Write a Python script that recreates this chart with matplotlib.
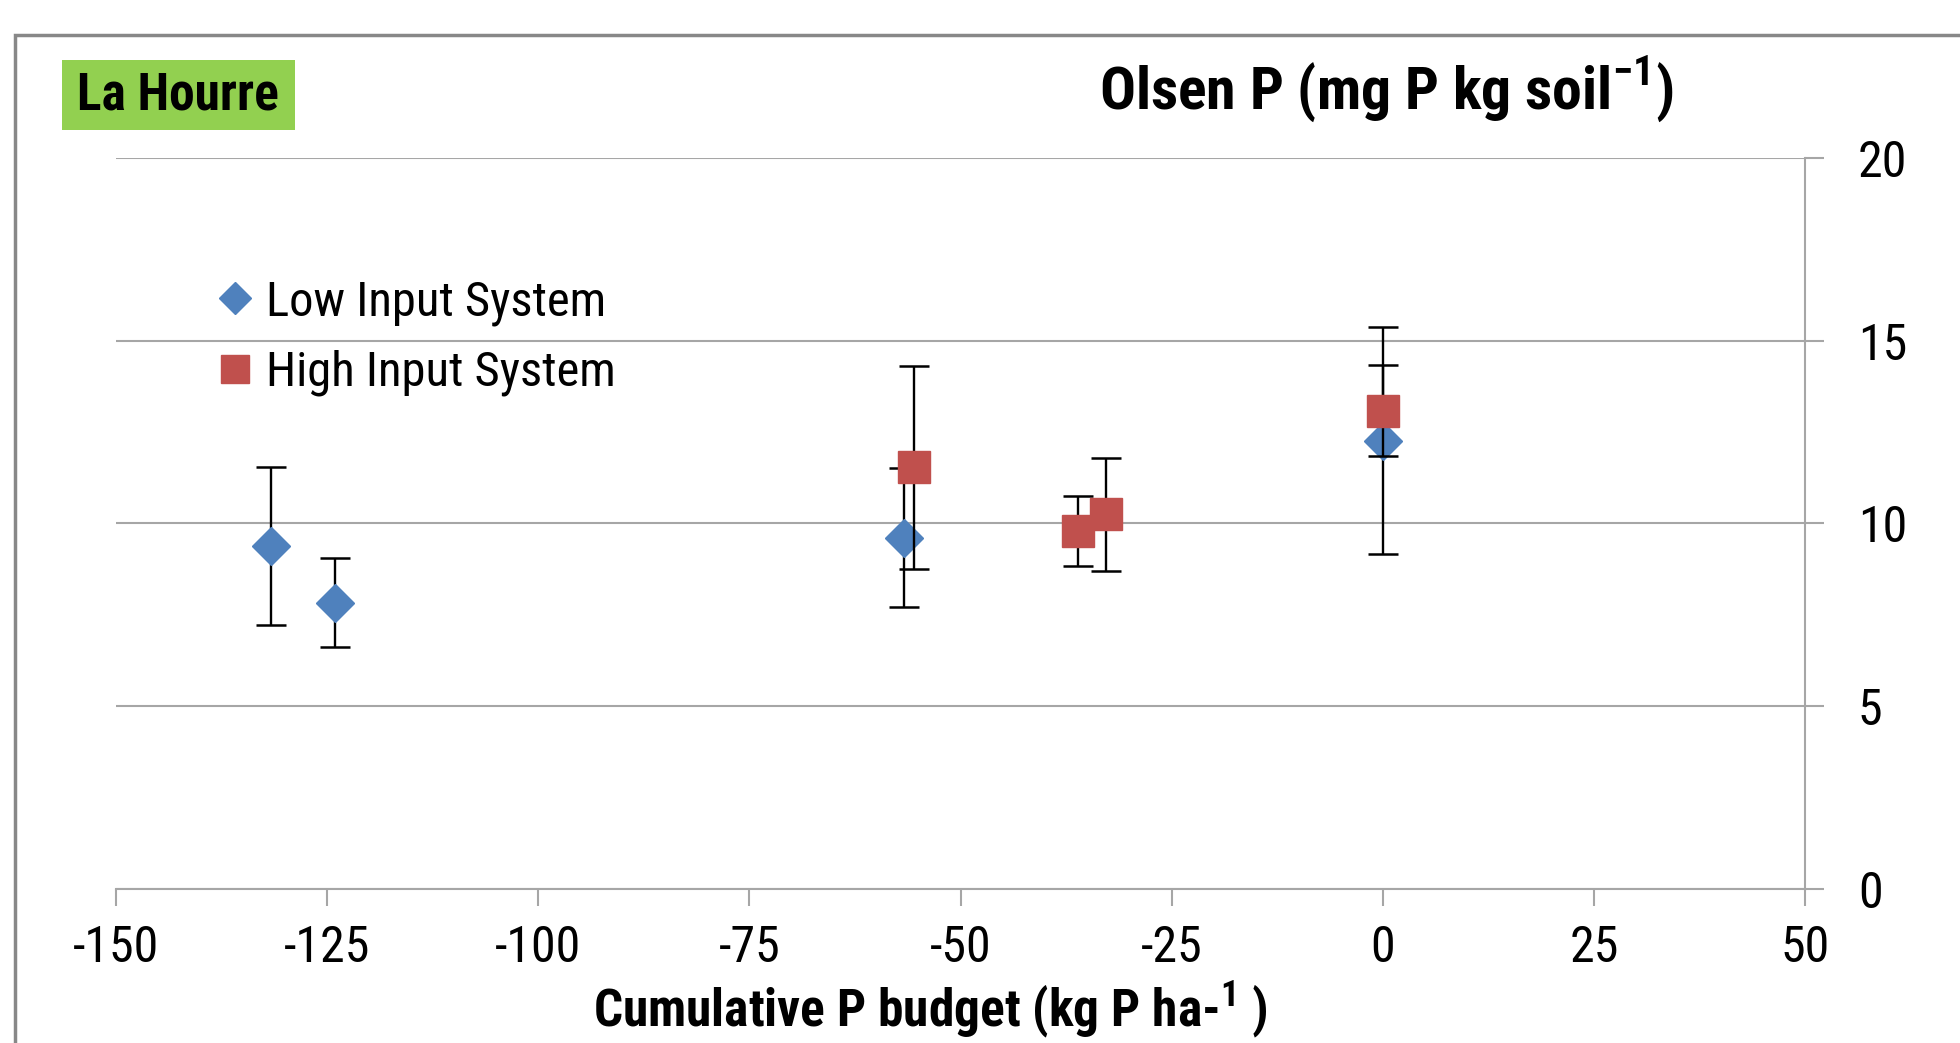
import matplotlib
matplotlib.use("Agg")
import matplotlib.pyplot as plt
from matplotlib.lines import Line2D
from matplotlib.patches import Rectangle

# ---- data ----
low_x = [-131.6, -124.1, -56.7, 0.0]
low_y = [9.38, 7.83, 9.61, 12.26]
low_err = [2.15, 1.22, 1.90, 3.10]

high_x = [-55.5, -36.1, -32.8, 0.0]
high_y = [11.53, 9.79, 10.25, 13.08]
high_err = [2.78, 0.95, 1.55, 1.24]

x_ticks = [-150, -125, -100, -75, -50, -25, 0, 25, 50]
y_ticks = [0, 5, 10, 15, 20]

series_labels = ["Low Input System", "High Input System"]
title = r"Olsen P (mg P kg soil$^{\mathbf{-1}}$)"
xlabel = r"Cumulative P budget (kg P ha-$^{\mathbf{1}}$ )"
site = "La Hourre"

FONT = ["Roboto Condensed", "DejaVu Sans"]
plt.rcParams["font.family"] = FONT
plt.rcParams["font.stretch"] = "condensed"
plt.rcParams["mathtext.fontset"] = "custom"
plt.rcParams["mathtext.rm"] = "Roboto Condensed"
plt.rcParams["mathtext.bf"] = "Roboto Condensed:bold"

BLUE = "#4F81BD"
RED = "#C0504D"
GRID = "#A6A6A6"

W, H = 1960, 1043
fig = plt.figure(figsize=(W / 100, H / 100), dpi=100)
ax = fig.add_axes([116 / W, 1 - 889 / H, (1805 - 116) / W, (889 - 157.7) / H])

# error bars + markers
ax.errorbar(low_x, low_y, yerr=low_err, fmt="none", ecolor="black",
            elinewidth=1.7, capsize=11, capthick=1.8, zorder=3)
ax.plot(low_x, low_y, linestyle="none", marker="D", markersize=19,
        color=BLUE, markeredgecolor=BLUE, zorder=4)
ax.errorbar(high_x, high_y, yerr=high_err, fmt="none", ecolor="black",
            elinewidth=1.7, capsize=11, capthick=1.8, zorder=5)
ax.plot(high_x, high_y, linestyle="none", marker="s", markersize=23,
        color=RED, markeredgecolor=RED, zorder=6)

ax.set_xlim(-150, 50)
ax.set_ylim(0, 20)
ax.set_xticks(x_ticks)
ax.set_yticks(y_ticks)
ax.set_xticklabels([str(v) for v in x_ticks])
ax.set_yticklabels([str(v) for v in y_ticks])

ax.yaxis.tick_right()
ax.grid(axis="y", color=GRID, linewidth=1.5, zorder=0)
ax.set_axisbelow(True)
for s in ["left", "top"]:
    ax.spines[s].set_visible(False)
for s in ["right", "bottom"]:
    ax.spines[s].set_color(GRID)
    ax.spines[s].set_linewidth(1.5)
ax.tick_params(axis="x", direction="out", length=12, width=1.5, color=GRID,
               labelsize=36, pad=13)
ax.tick_params(axis="y", direction="out", length=14, width=1.5, color=GRID,
               labelsize=36, pad=24)

# legend
handles = [
    Line2D([], [], linestyle="none", marker="D", markersize=16, color=BLUE),
    Line2D([], [], linestyle="none", marker="s", markersize=20, color=RED),
]
ax.legend(handles, series_labels, loc="upper left",
          bbox_to_anchor=(211 / W, 1 - 279 / H), bbox_transform=fig.transFigure,
          frameon=False, fontsize=35, handlelength=1.0, handletextpad=0.13,
          labelspacing=0.5, borderaxespad=0, borderpad=0)

# titles
fig.text(1386 / W, 1 - 90 / H, title, fontsize=43, fontweight="bold",
         ha="center", va="center")
fig.text(930 / W, 1 - 1010 / H, xlabel, fontsize=37, fontweight="bold",
         ha="center", va="center")

# site label with green box
fig.patches.append(Rectangle((62 / W, 1 - 130 / H), (295 - 62) / W, 70 / H,
                             transform=fig.transFigure, facecolor="#92D050",
                             edgecolor="none", zorder=1))
fig.text(178 / W, 1 - 95 / H, site, fontsize=37, fontweight="bold",
         ha="center", va="center", zorder=2)

# outer frame (extends beyond right and bottom edges)
fig.patches.append(Rectangle((15 / W, -0.05), 1.1, 1 - 35 / H + 0.05,
                             transform=fig.transFigure, facecolor="none",
                             edgecolor="#888888", linewidth=2.5, zorder=0))

fig.savefig("out.png", dpi=100)
